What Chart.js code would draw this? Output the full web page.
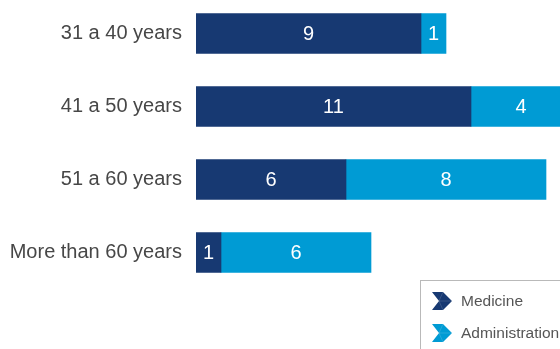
<!DOCTYPE html>
<html lang="en">
<head>
  <meta charset="UTF-8" />
  <title>Staff by age group</title>
  <script src="https://cdn.jsdelivr.net/npm/chart.js"></script>
  <style>
    html, body {
      margin: 0;
      padding: 0;
      background: #fff;
      overflow: hidden;
      width: 560px;
      height: 349px;
    }
    .wrap {
      position: relative;
      width: 560px;
      height: 349px;
      overflow: hidden;
    }
    #ageChart {
      position: absolute;
      left: 0;
      top: -3px;
    }
    .legend {
      position: absolute;
      left: 420px;
      top: 280px;
      width: 200px;
      height: 100px;
      border: 1px solid #b9b9b9;
      font-family: "Liberation Sans", Arial, sans-serif;
      font-size: 15.5px;
      color: #555;
    }
    .legend .item {
      position: absolute;
      left: 11px;
      display: flex;
      align-items: center;
    }
    .legend svg { margin-right: 9px; }
  </style>
</head>
<body>
<div class="wrap">
  <canvas id="ageChart" width="571" height="292"></canvas>
  <div class="legend" id="legend"></div>
</div>

<script>
const ageGroups = ['31 a 40 years', '41 a 50 years', '51 a 60 years', 'More than 60 years'];
const medicine = [9, 11, 6, 1];
const administration = [1, 4, 8, 6];

const seriesNames = ['Medicine', 'Administration'];
const seriesColors = ['#173972', '#009bd4'];

// white counts written in the middle of every segment
const segmentLabels = {
  id: 'segmentLabels',
  afterDatasetsDraw(chart) {
    const ctx = chart.ctx;
    ctx.save();
    ctx.fillStyle = '#ffffff';
    ctx.font = '20px "Liberation Sans", Arial, sans-serif';
    ctx.textAlign = 'center';
    ctx.textBaseline = 'middle';
    chart.data.datasets.forEach((ds, i) => {
      chart.getDatasetMeta(i).data.forEach((bar, j) => {
        const p = bar.getCenterPoint();
        ctx.fillText(String(ds.data[j]), p.x, p.y + 1);
      });
    });
    ctx.restore();
  }
};

new Chart(document.getElementById('ageChart'), {
  type: 'bar',
  data: {
    labels: ageGroups,
    datasets: [
      { label: seriesNames[0], data: medicine, backgroundColor: seriesColors[0] },
      { label: seriesNames[1], data: administration, backgroundColor: seriesColors[1] }
    ]
  },
  options: {
    indexAxis: 'y',
    responsive: false,
    animation: false,
    layout: { padding: 0 },
    datasets: { bar: { barThickness: 40 } },
    plugins: {
      legend: { display: false },
      tooltip: { enabled: false }
    },
    scales: {
      x: {
        stacked: true,
        display: false,
        min: 0,
        max: 15
      },
      y: {
        stacked: true,
        grid: { display: false, drawTicks: false },
        border: { display: false },
        ticks: {
          color: '#474747',
          padding: 14,
          font: { family: '"Liberation Sans", Arial, sans-serif', size: 20 }
        },
        afterFit(scale) {
          scale.width = 196;
          scale.paddingTop = 0;
          scale.paddingBottom = 0;
        }
      }
    }
  },
  plugins: [segmentLabels]
});

// boxed legend with chevron markers
const legendEl = document.getElementById('legend');
seriesNames.forEach((name, i) => {
  const item = document.createElement('div');
  item.className = 'item';
  item.style.top = (i === 0 ? 11 : 43) + 'px';
  const c = seriesColors[i];
  item.innerHTML =
    '<svg width="20" height="18" viewBox="0 0 20 18">' +
    '<polygon points="0,0 11,0 20,9 11,18 0,18 7,9" fill="' + c + '"/>' +
    '<polyline points="11,0 7,9 11,18" fill="none" stroke="rgba(255,255,255,0.18)" stroke-width="0.8"/>' +
    '<line x1="7" y1="9" x2="20" y2="9" stroke="rgba(255,255,255,0.18)" stroke-width="0.8"/>' +
    '</svg><span>' + name + '</span>';
  legendEl.appendChild(item);
});
</script>
</body>
</html>
